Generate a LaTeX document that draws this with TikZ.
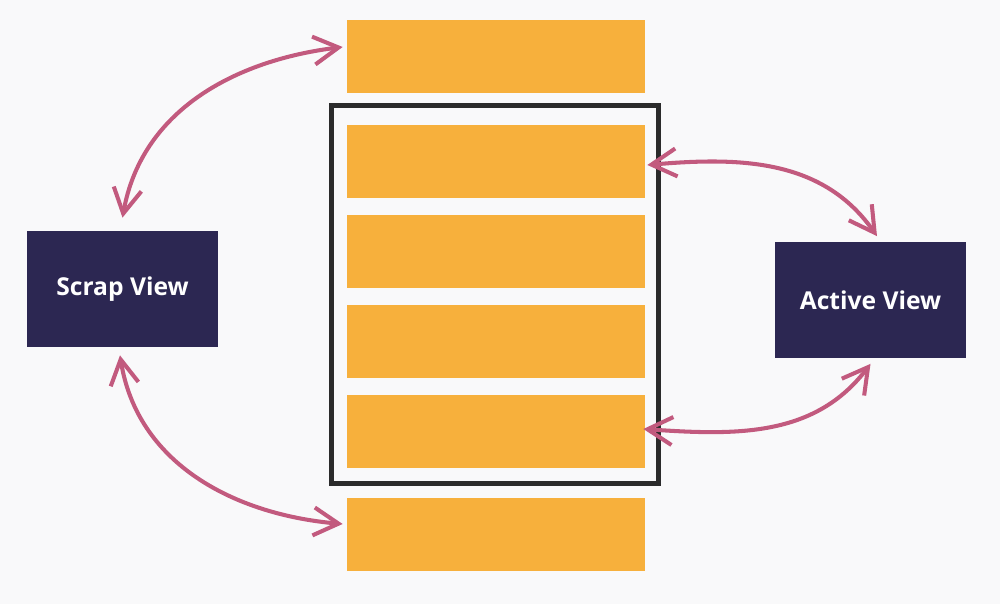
\documentclass[tikz,border=0pt]{standalone}
\usepackage{fontspec}
\setsansfont{Open Sans}
\usepackage{tikz}
\usetikzlibrary{arrows.meta,positioning}
\definecolor{paper}{HTML}{F9F9FA}
\definecolor{barorange}{HTML}{F7B03C}
\definecolor{viewnavy}{HTML}{2C2752}
\definecolor{linkpink}{HTML}{C25A7E}
\definecolor{frameblack}{HTML}{2B2B2B}
\tikzset{
  % listan
  bar/.style={fill=barorange,draw=none,inner sep=0pt,minimum width=5.96cm,
              minimum height=1.46cm},
  frm/.style={draw=frameblack,line width=2.8pt,inner sep=0pt,minimum width=6.54cm,
              minimum height=7.56cm},
  % vyer
  vw/.style={fill=viewnavy,draw=none,inner sep=0pt,minimum width=3.82cm,
             minimum height=2.32cm,text=white,
             font=\sffamily\bfseries\fontsize{14}{16}\selectfont},
  % pilar
  lnk/.style={{Straight Barb[length=5mm,width=5.6mm]}-{Straight Barb[length=5mm,width=5.6mm]},
              draw=linkpink,line width=2.3pt},
}

\begin{document}
\begin{tikzpicture}[x=0.2mm,y=0.2mm]
  \fill[paper] (0,0) rectangle (1000,604);
  \useasboundingbox (0,0) rectangle (1000,604);
  \node[frm] (frame) at (495,309.5) {};
  \node[bar] (bartop) at (496,547.5) {};
  \foreach \i in {1,...,4} \node[bar] (bar\i) at (496,{532.5-90*\i}) {};
  \node[bar] (barbot) at (496,69.5) {};
  \node[vw] (scrap) at (122.5,315) {Scrap View};
  \node[vw] (active) at (870.5,303.5) {Active View};
  \draw[lnk] ([yshift=2.6mm]scrap.north) to[out=80,in=187] ([xshift=-0.8mm,yshift=1.9mm]bartop.west);
  \draw[lnk] ([xshift=-0.5mm,yshift=-1.6mm]scrap.south) to[out=-81,in=175] ([xshift=-0.8mm,yshift=2.1mm]barbot.west);
  \draw[lnk] ([xshift=0.4mm,yshift=-0.7mm]bar1.east) to[out=5,in=125] ([xshift=1.3mm,yshift=1.2mm]active.north);
  \draw[lnk] ([xshift=-0.4mm,yshift=0.5mm]bar4.east) to[out=-4,in=233] ([yshift=-1mm]active.south);
\end{tikzpicture}
\end{document}
